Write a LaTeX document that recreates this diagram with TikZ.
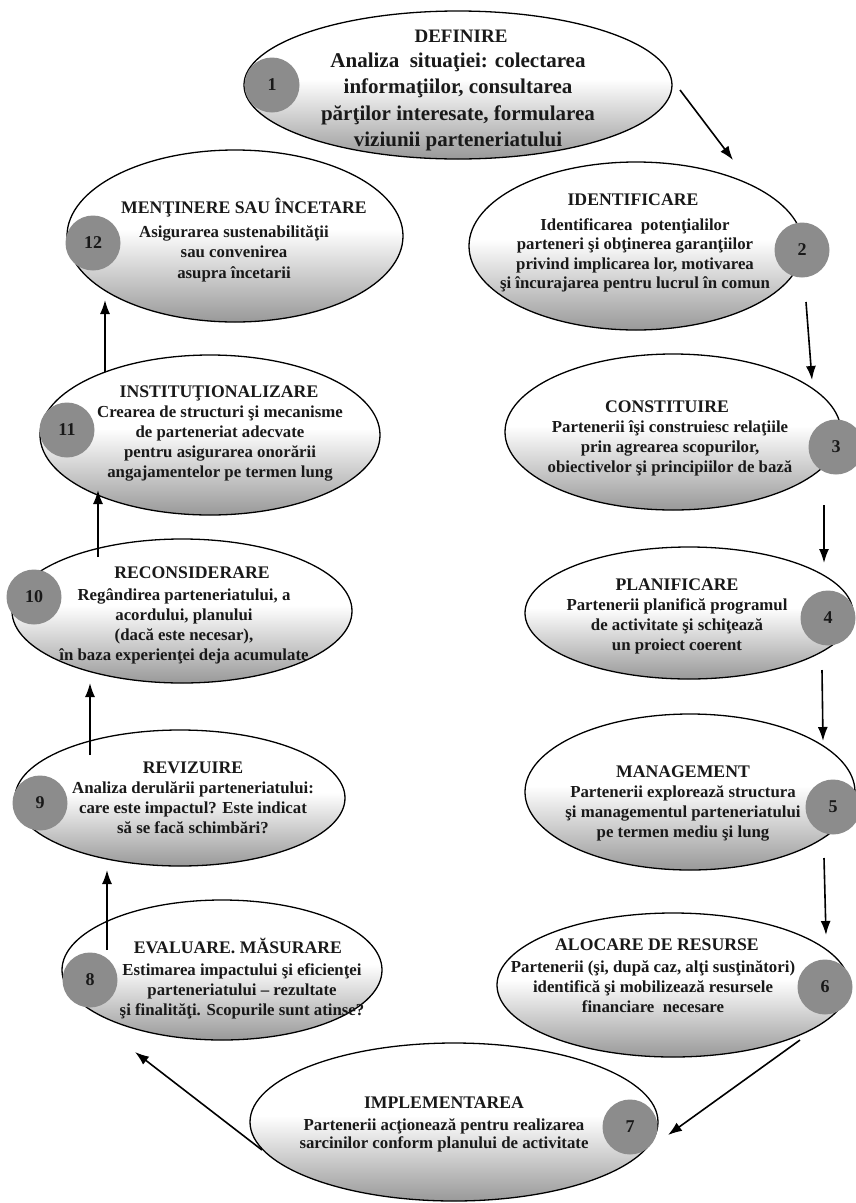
\documentclass[tikz,border=0pt]{standalone}
\usepackage{fontspec}
\setmainfont{Liberation Serif}
\newfontface\headface{Liberation Serif Bold}
\usetikzlibrary{shapes.geometric,arrows.meta}

% white in the upper half of a stage, fading to grey at its lower rim
\pgfdeclareverticalshading{stageshade}{100bp}{%
  color(0bp)=(black!40); color(25bp)=(black!40); color(52bp)=(white); color(100bp)=(white)}

\tikzset{
  stage/.style={ellipse, draw=black, line width=1.3pt, shade, shading=stageshade, inner sep=0pt},
  badge/.style={circle, fill=black!45, inner sep=0pt, minimum size=55pt,
    text=black!90, font=\fontsize{18}{20}\selectfont\bfseries},
  heading/.style={anchor=base, inner sep=0pt, text=black!90,
    font=\fontsize{17.7}{20}\headface},
  caption/.style={align=center, inner sep=0pt, anchor=north, text=black!90,
    font=\fontsize{16.8}{20}\selectfont\bfseries},
  flow/.style={line width=1.6pt, -{Latex[length=14pt,width=10pt]}}
}
% fixes the height of the first text line, so the block hangs 17pt above its first baseline
\newcommand{\firstline}{\rule{0pt}{17pt}}

\begin{document}
\begin{tikzpicture}[x=1pt,y=-1pt]
\useasboundingbox (0,0) rectangle (856,1203);
\fill[white] (0,0) rectangle (856,1203);

% ---- the twelve stages ----
\node[stage, minimum width=428pt, minimum height=148pt] (e1)  at (458,85)   {};
\node[stage, minimum width=334pt, minimum height=168pt] (e2)  at (636,246)  {};
\node[stage, minimum width=336pt, minimum height=172pt] (e12) at (235,236)  {};
\node[stage, minimum width=340pt, minimum height=160pt] (e11) at (210,435)  {};
\node[stage, minimum width=336pt, minimum height=156pt] (e3)  at (673,432)  {};
\node[stage, minimum width=340pt, minimum height=144pt] (e10) at (182,611)  {};
\node[stage, minimum width=328pt, minimum height=132pt] (e4)  at (689,613)  {};
\node[stage, minimum width=330pt, minimum height=136pt] (e9)  at (180,798)  {};
\node[stage, minimum width=330pt, minimum height=156pt] (e5)  at (690,792)  {};
\node[stage, minimum width=320pt, minimum height=140pt] (e8)  at (222,970)  {};
\node[stage, minimum width=352pt, minimum height=144pt] (e6)  at (673,985)  {};
\node[stage, minimum width=408pt, minimum height=158pt] (e7)  at (454,1122) {};

% ---- step numbers ----
\node[badge] (n1)  at (272,85)   {1};
\node[badge] (n2)  at (802,250)  {2};
\node[badge] (n12) at (93,243)   {12};
\node[badge] (n11) at (67,430)   {11};
\node[badge] (n3)  at (836,447)  {3};
\node[badge] (n10) at (34,597)   {10};
\node[badge] (n4)  at (828,618)  {4};
\node[badge] (n9)  at (40,803)   {9};
\node[badge] (n5)  at (833,807)  {5};
\node[badge] (n8)  at (90,980)   {8};
\node[badge] (n6)  at (825,987)  {6};
\node[badge] (n7)  at (630,1127) {7};

% ---- stage headings ----
\node[heading, font=\fontsize{19}{20}\headface] (h1) at (461,42) {DEFINIRE};
\node[heading] (h2)  at (633,205)  {IDENTIFICARE};
\node[heading] (h12) at (244,213)  {MENŢINERE SAU ÎNCETARE};
\node[heading] (h11) at (219,397)  {INSTITUŢIONALIZARE};
\node[heading] (h3)  at (667,412)  {CONSTITUIRE};
\node[heading] (h10) at (192,578)  {RECONSIDERARE};
\node[heading] (h4)  at (677,590)  {PLANIFICARE};
\node[heading] (h9)  at (193,773)  {REVIZUIRE};
\node[heading] (h5)  at (683,777)  {MANAGEMENT};
\node[heading] (h8)  at (238,953)  {EVALUARE. MĂSURARE};
\node[heading] (h6)  at (657,950)  {ALOCARE DE RESURSE};
\node[heading] (h7)  at (444,1108) {IMPLEMENTAREA};

% ---- stage descriptions ----
\node[caption, font=\fontsize{21}{26.5}\selectfont\bfseries] (t1) at (458,50)
  {\firstline Analiza\ \ situaţiei: colectarea\\informaţiilor, consultarea\\
   părţilor interesate, formularea\\viziunii parteneriatului};
\node[caption, font=\fontsize{16.8}{19.5}\selectfont\bfseries] (t2) at (635,213)
  {\firstline Identificarea\ \ potenţialilor\\parteneri şi obţinerea garanţiilor\\
   privind implicarea lor, motivarea\\şi încurajarea pentru lucrul în comun};
\node[caption, font=\fontsize{16.8}{20.5}\selectfont\bfseries] (t12) at (234,220)
  {\firstline Asigurarea sustenabilităţii\\sau convenirea\\asupra încetarii};
\node[caption] (t11) at (220,400)
  {\firstline Crearea de structuri şi mecanisme\\de parteneriat adecvate\\
   pentru asigurarea onorării\\angajamentelor pe termen lung};
\node[caption] (t3) at (670,415)
  {\firstline Partenerii îşi construiesc relaţiile\\prin agrearea scopurilor,\\
   obiectivelor şi principiilor de bază};
\node[caption] (t10) at (184,583)
  {\firstline Regândirea parteneriatului, a\\acordului, planului\\
   (dacă este necesar),\\în baza experienţei deja acumulate};
\node[caption] (t4) at (677,593)
  {\firstline Partenerii planifică programul\\de activitate şi schiţează\\un proiect coerent};
\node[caption] (t9) at (193,776)
  {\firstline Analiza derulării parteneriatului:\\care este impactul? Este indicat\\
   să se facă schimbări?};
\node[caption] (t5) at (683,780)
  {\firstline Partenerii explorează structura\\şi managementul parteneriatului\\
   pe termen mediu şi lung};
\node[caption] (t8) at (242,958)
  {\firstline Estimarea impactului şi eficienţei\\parteneriatului – rezultate\\
   şi finalităţi. Scopurile sunt atinse?};
\node[caption] (t6) at (653,955)
  {\firstline Partenerii (şi, după caz, alţi susţinători)\\
   identifică şi mobilizează resursele\\financiare\ \ necesare};
\node[caption, font=\fontsize{16.8}{18.5}\selectfont\bfseries] (t7) at (444,1113)
  {\firstline Partenerii acţionează pentru realizarea\\sarcinilor conform planului de activitate};

% ---- arrow ends next to the stage rims ----
\coordinate (o1)  at (680,90);   \coordinate (i2)  at (733,160);
\coordinate (o2)  at (806,302);  \coordinate (i3)  at (812,380);
\coordinate (o3)  at (824,505);  \coordinate (i4)  at (824,563);
\coordinate (o4)  at (822,670);  \coordinate (i5)  at (823,741);
\coordinate (o5)  at (824,858);  \coordinate (i6)  at (826,935);
\coordinate (o6)  at (800,1040); \coordinate (i7)  at (668,1135);
\coordinate (o7)  at (262,1150); \coordinate (i8)  at (135,1052);
\coordinate (o8)  at (107,950);  \coordinate (i9)  at (107,870);
\coordinate (o9)  at (90,755);   \coordinate (i10) at (90,683);
\coordinate (o10) at (98,557);   \coordinate (i11) at (98,490);
\coordinate (o11) at (105,372);  \coordinate (i12) at (105,300);

% ---- the cycle ----
\draw[flow] (o1)  -- (i2);
\draw[flow] (o2)  -- (i3);
\draw[flow] (o3)  -- (i4);
\draw[flow] (o4)  -- (i5);
\draw[flow] (o5)  -- (i6);
\draw[flow] (o6)  -- (i7);
\draw[flow] (o7)  -- (i8);
\draw[flow] (o8)  -- (i9);
\draw[flow] (o9)  -- (i10);
\draw[flow] (o10) -- (i11);
\draw[flow] (o11) -- (i12);
\end{tikzpicture}
\end{document}
